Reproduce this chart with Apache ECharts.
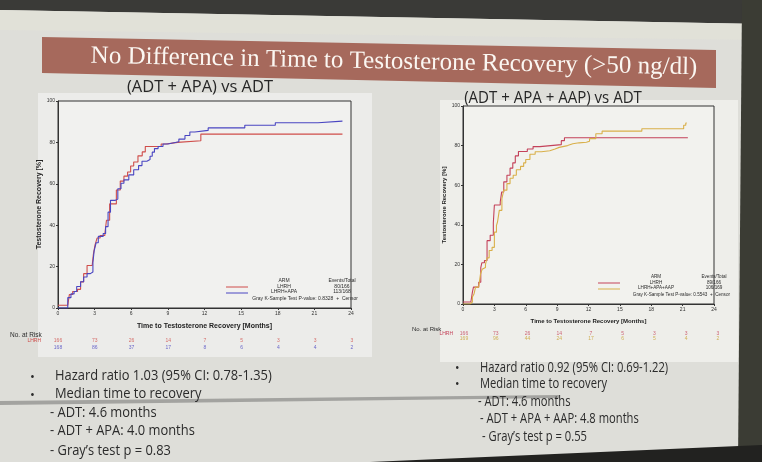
<!DOCTYPE html>
<html><head><meta charset="utf-8">
<script src="https://cdn.jsdelivr.net/npm/echarts@6/dist/echarts.min.js"></script>
<style>html,body{margin:0;padding:0;background:#2e2e2c}#c{width:762px;height:462px}</style>
</head><body><div id="c"></div>
<script>
// ---------- data ----------
const monthTicks = [0, 3, 6, 9, 12, 15, 18, 21, 24];

// Left panel: (ADT + APA) vs ADT
const leftAdtTime = [0, 0.8, 0.93, 1.2, 1.6, 1.85, 2.1, 2.38, 2.8, 2.9, 3.04, 3.2, 3.45, 3.84, 3.97, 4.23, 4.78, 5.1, 5.4, 5.7, 5.95, 6.2, 6.55, 6.9, 7.15, 8.45, 8.85, 9.8, 11.7, 23.3];
const leftAdtPct  = [1.3, 2, 6.5, 8, 9, 12.6, 16.6, 20.5, 21.2, 26, 30.6, 33.8, 35, 36, 42.4, 50.3, 57, 61.3, 63.7, 65.7, 68.6, 70.5, 73.5, 75.4, 78, 79.2, 80, 80.8, 84, 84];
const leftApaTime = [0, 0.8, 1.06, 1.32, 1.53, 1.85, 2.1, 2.38, 2.65, 2.86, 2.96, 3.12, 3.3, 3.7, 3.9, 4.1, 4.3, 4.7, 4.9, 5.16, 5.4, 5.8, 6.2, 6.6, 6.88, 7.28, 7.54, 7.72, 7.9, 8.2, 8.6, 9.0, 9.4, 9.9, 10.4, 10.8, 11.2, 12.3, 15.3, 17.8, 21.3, 23.3];
const leftApaPct  = [0, 5, 6.8, 8, 10.4, 12.7, 15, 16.6, 17.4, 22, 27.6, 31.5, 34.6, 36, 39.3, 46.3, 52, 52.6, 57.6, 60.3, 61.9, 64.3, 66.8, 68.8, 70.9, 71.7, 73.3, 75.3, 77, 78, 79.2, 79.7, 80.3, 81.6, 83.3, 85, 85.8, 87, 88.3, 89.5, 90.3, 90.3];

// Right panel: (ADT + APA + AAP) vs ADT
const rightAdtTime = [0, 0.75, 0.9, 1.0, 1.5, 1.7, 1.8, 2.05, 2.3, 2.6, 2.9, 3.0, 3.56, 3.7, 3.9, 4.2, 4.5, 4.76, 5.0, 5.3, 6.15, 6.7, 7.35, 9.4, 9.7, 21.5];
const rightAdtPct  = [1, 2, 6, 8.5, 11, 18.4, 20.8, 22, 32, 34.7, 41, 50, 51.5, 56.6, 61.7, 65, 68.6, 71.3, 74.8, 77, 78.3, 79.5, 80.5, 82.5, 84, 84];
const rightAapTime = [0, 0.66, 0.9, 1.05, 1.2, 1.5, 1.67, 1.83, 2.0, 2.15, 2.3, 2.5, 2.78, 3.0, 3.2, 3.3, 3.47, 3.72, 3.9, 4.2, 4.5, 4.8, 5.1, 5.5, 5.8, 6.0, 6.4, 6.9, 7.5, 8.3, 8.8, 9.2, 10.0, 10.5, 11.1, 11.8, 12.1, 12.7, 13.3, 17.1, 21.1, 21.3, 21.4];
const rightAapPct  = [0, 1, 3.6, 5, 8.5, 9.3, 15, 17.5, 18.4, 20, 23.3, 27, 28.6, 36.3, 39.7, 41.4, 47.3, 53.2, 57.5, 60.8, 63.5, 65, 67.8, 69.5, 71.3, 73, 75.6, 76.9, 77.4, 78.3, 79.1, 80, 80.9, 81.4, 81.7, 82.2, 83.5, 86, 87.3, 88.5, 90.3, 91.4, 91.4];

// Number at risk
const leftRiskRows  = ['LHRH', 'LHRH+APA'];
const leftRiskAdt   = [166, 73, 26, 14, 7, 5, 3, 3, 3];
const leftRiskApa   = [168, 86, 37, 17, 8, 6, 4, 4, 2];
const rightRiskRows = ['LHRH', 'LHRH+APA+AAP'];
const rightRiskAdt  = [166, 73, 26, 14, 7, 5, 3, 3, 3];
const rightRiskAap  = [169, 96, 44, 24, 17, 6, 5, 4, 2];

// Text
const titleText = 'No Difference in Time to Testosterone Recovery (>50 ng/dl)';
const leftSub = '(ADT + APA) vs ADT';
const rightSub = '(ADT + APA + AAP) vs ADT';
const leftLegend = { arms: ['LHRH', 'LHRH+APA'], events: ['80/166', '113/168'], test: 'Gray K-Sample Test P-value: 0.8328  +  Censor' };
const rightLegend = { arms: ['LHRH', 'LHRH+APA+AAP'], events: ['89/166', '106/169'], test: 'Gray K-Sample Test P-value: 0.5543  +  Censor' };
const leftBullets = ['Hazard ratio 1.03 (95% CI: 0.78-1.35)', 'Median time to recovery'];
const leftSubs = ['- ADT: 4.6 months', '- ADT + APA: 4.0 months', '- Gray\u2019s test p = 0.83'];
const rightBullets = ['Hazard ratio 0.92 (95% CI: 0.69-1.22)', 'Median time to recovery'];
const rightSubs = ['- ADT: 4.6 months', '- ADT + APA + AAP: 4.8 months', '- Gray\u2019s test p = 0.55'];

// ---------- styling ----------
const C = { red: '#cf4d4a', blue: '#4a46c2', crim: '#c4425a', yel: '#d9b04a', ink: '#2b2b2b' };
const SANS = "Arial, 'Liberation Sans', sans-serif";
const SLIDE = "'Open Sans', 'Noto Sans', sans-serif";

const zip = (t, p) => t.map((v, i) => [v, p[i]]);

function plotAxes(gi, yName, nameFs) {
  const x = { type: 'value', gridIndex: gi, min: 0, max: 24, interval: 3,
    name: 'Time to Testosterone Recovery [Months]', nameLocation: 'middle', nameGap: 15,
    nameTextStyle: { fontSize: nameFs, color: '#222', fontFamily: SANS, fontWeight: 'bold' },
    axisLine: { lineStyle: { color: '#333', width: 1 } }, axisTick: { length: 2, lineStyle: { color: '#333' } },
    axisLabel: { fontSize: 5, margin: 3, color: '#333', fontFamily: SANS }, splitLine: { show: false } };
  const y = { type: 'value', gridIndex: gi, min: 0, max: 100, interval: 20,
    name: yName, nameLocation: 'middle', nameGap: 13,
    nameTextStyle: { fontSize: nameFs, color: '#222', fontFamily: SANS, fontWeight: 'bold' },
    axisLine: { show: true, lineStyle: { color: '#333', width: 1 } }, axisTick: { show: true, length: 2, lineStyle: { color: '#333' } },
    axisLabel: { fontSize: 5, margin: 3, color: '#333', fontFamily: SANS }, splitLine: { show: false } };
  return [x, y];
}
function riskAxes(gi, rows, colors, margin) {
  return [
    { type: 'value', gridIndex: gi, min: 0, max: 24, show: false },
    { type: 'category', gridIndex: gi, data: rows, inverse: true,
      axisLine: { show: false }, axisTick: { show: false },
      axisLabel: { fontSize: 5, margin: margin, fontFamily: SANS, color: (v, i) => colors[rows.indexOf(v)] } }
  ];
}
function riskSeries(xi, yi, row, vals, color) {
  return { type: 'scatter', xAxisIndex: xi, yAxisIndex: yi, symbolSize: 0, silent: true,
    data: monthTicks.map((t, i) => [t, row, vals[i]]),
    label: { show: true, position: 'inside', formatter: p => p.value[2], fontSize: 5, color: color, fontFamily: SANS } };
}
function stepLine(xi, yi, data, color) {
  return { type: 'line', step: 'end', xAxisIndex: xi, yAxisIndex: yi, data: data, showSymbol: false,
    lineStyle: { color: color, width: 1.1 }, itemStyle: { color: color }, silent: true, z: 3 };
}
function txt(x, y, text, fs, opt) {
  opt = opt || {};
  return { type: 'text', x: x, y: y, rotation: opt.rot || 0, scaleX: opt.sx || 1, z: opt.z || 10,
    style: { text: text, font: (opt.weight || 'normal') + ' ' + fs + 'px ' + (opt.family || SANS),
      fill: opt.color || C.ink, textAlign: opt.align || 'left', textVerticalAlign: 'middle' } };
}
function seg(x1, y1, x2, y2, color, w) {
  return { type: 'line', z: 10, shape: { x1, y1, x2, y2 }, style: { stroke: color, lineWidth: w || 1 } };
}
function legend(x0, yTop, L, c1, c2, fs) {
  const g = [];
  const colA = x0 + 58, colB = x0 + 116;
  g.push(txt(colA, yTop, 'ARM', fs, { align: 'center' }));
  g.push(txt(colB, yTop, 'Events/Total', fs, { align: 'center' }));
  g.push(seg(x0, yTop + 6, x0 + 22, yTop + 6, c1, 1));
  g.push(seg(x0, yTop + 12, x0 + 22, yTop + 12, c2, 1));
  g.push(txt(colA, yTop + 5.5, L.arms[0], fs, { align: 'center' }));
  g.push(txt(colA, yTop + 11, L.arms[1], fs, { align: 'center' }));
  g.push(txt(colB, yTop + 5.5, L.events[0], fs, { align: 'center' }));
  g.push(txt(colB, yTop + 11, L.events[1], fs, { align: 'center' }));
  g.push(txt(x0 + 132, yTop + 17.5, L.test, fs, { align: 'right' }));
  return g;
}

// ---------- graphic (slide decorations + text) ----------
const LS = { family: SLIDE, sx: 0.86 };
const RS = { family: SLIDE, sx: 0.8 };
const graphic = [
  // slide background and panels
  { type: 'rect', z: -20, shape: { x: 0, y: 0, width: 762, height: 462 }, style: { fill: '#deded9' } },
  { type: 'polygon', z: -19, shape: { points: [[0, 0], [762, 0], [762, 24], [0, 10]] }, style: { fill: '#3a3a37' } },
  { type: 'polygon', z: -19, shape: { points: [[0, 10], [762, 24], [762, 40], [0, 30]] }, style: { fill: '#e1e1d8' } },
  { type: 'polygon', z: -19, shape: { points: [[742, 0], [762, 0], [762, 462], [738, 462]] }, style: { fill: '#3b3c34' } },
  { type: 'polygon', z: -19, shape: { points: [[370, 462], [762, 445], [762, 462]] }, style: { fill: '#222220' } },
  { type: 'rect', z: -18, shape: { x: 38, y: 93, width: 334, height: 264 }, style: { fill: '#ececea' } },
  { type: 'rect', z: -18, shape: { x: 440, y: 100, width: 298, height: 262 }, style: { fill: '#eeeeea' } },
  { type: 'polygon', z: -18, shape: { points: [[0, 401], [560, 395], [560, 398], [0, 405]] }, style: { fill: '#a3a3a0' } },
  // title banner
  { type: 'polygon', z: -17, shape: { points: [[42, 37], [716, 50], [716, 88], [42, 73]] }, style: { fill: '#a6695c' } },
  txt(394, 62, titleText, 25, { family: "'Liberation Serif', 'DejaVu Serif', serif", color: '#fbf7f2', align: 'center', rot: -0.019 }),
  // subtitles
  txt(200, 87, leftSub, 17, { family: SLIDE, align: 'center', color: '#262626', sx: 0.97 }),
  txt(553, 98, rightSub, 16, { family: SLIDE, align: 'center', color: '#262626', sx: 0.94 }),
  // no. at risk captions
  txt(10, 335, 'No. at Risk', 6.5, {}),
  txt(412, 329, 'No. at Risk', 6, {}),
  // bullets left
  txt(30, 377, '\u2022', 13, { family: SLIDE }),
  txt(55, 376, leftBullets[0], 15, LS),
  txt(30, 395, '\u2022', 13, { family: SLIDE }),
  txt(55, 394, leftBullets[1], 15, LS),
  txt(50, 413, leftSubs[0], 15, LS),
  txt(50, 431, leftSubs[1], 15, LS),
  txt(50, 451, leftSubs[2], 15, LS),
  // bullets right
  txt(455, 369, '\u2022', 12, { family: SLIDE }),
  txt(480, 368, rightBullets[0], 14, RS),
  txt(455, 385, '\u2022', 12, { family: SLIDE }),
  txt(480, 384, rightBullets[1], 14, RS),
  txt(478, 402, rightSubs[0], 14, RS),
  txt(480, 419, rightSubs[1], 14, RS),
  txt(482, 437, rightSubs[2], 14, RS)
].concat(legend(226, 281, leftLegend, C.red, C.blue, 5))
 .concat(legend(598, 277, rightLegend, C.crim, C.yel, 4.6));

const [lx, ly] = plotAxes(0, 'Testosterone Recovery [%]', 7);
const [rx, ry] = plotAxes(1, 'Testosterone Recovery [%]', 6);
rx.nameGap = 14; ry.nameGap = 16;
const [lrx, lry] = riskAxes(2, leftRiskRows, [C.red, C.blue], 17);
const [rrx, rry] = riskAxes(3, rightRiskRows, [C.crim, '#c9a032'], 11);

const option = {
  animation: false,
  backgroundColor: '#deded9',
  graphic: graphic,
  grid: [
    { left: 58, top: 101, width: 293, height: 207, show: true, borderColor: '#333', borderWidth: 1, backgroundColor: '#f1f1ef' },
    { left: 463, top: 106, width: 251, height: 198, show: true, borderColor: '#333', borderWidth: 1, backgroundColor: '#f2f2ee' },
    { left: 58, top: 337.5, width: 294, height: 14 },
    { left: 464, top: 331.5, width: 254, height: 10 }
  ],
  xAxis: [lx, rx, lrx, rrx],
  yAxis: [ly, ry, lry, rry],
  series: [
    stepLine(0, 0, zip(leftAdtTime, leftAdtPct), C.red),
    stepLine(0, 0, zip(leftApaTime, leftApaPct), C.blue),
    stepLine(1, 1, zip(rightAdtTime, rightAdtPct), C.crim),
    stepLine(1, 1, zip(rightAapTime, rightAapPct), C.yel),
    riskSeries(2, 2, leftRiskRows[0], leftRiskAdt, C.red),
    riskSeries(2, 2, leftRiskRows[1], leftRiskApa, C.blue),
    riskSeries(3, 3, rightRiskRows[0], rightRiskAdt, C.crim),
    riskSeries(3, 3, rightRiskRows[1], rightRiskAap, '#c9a032')
  ]
};
echarts.init(document.getElementById('c'), null, { renderer: 'canvas' }).setOption(option);
</script></body></html>
